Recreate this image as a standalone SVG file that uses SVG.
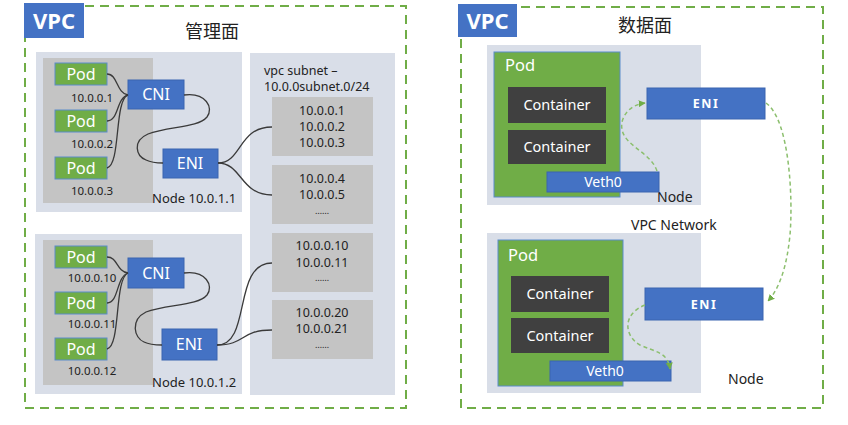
<svg xmlns="http://www.w3.org/2000/svg" width="848" height="425" viewBox="0 0 848 425">
<defs>
<style>
text{font-family:"Noto Sans","Open Sans","Liberation Sans",sans-serif}
.cjk{font-family:"Noto Sans CJK SC","Noto Sans",sans-serif;font-size:18px;fill:#222}
.vpcbox{fill:#4472c4}
.vpct{fill:#fff;font-size:22px;font-weight:bold}
.frame{fill:none;stroke:#70ad47;stroke-width:2;stroke-dasharray:9,6}
.nodebg{fill:#d9dee8}
.podarea{fill:#c4c4c4}
.pod{fill:#70ad47;stroke:#5b8bc9;stroke-width:1}
.blue{fill:#4472c4;stroke:#3a65b0;stroke-width:1}
.wt{fill:#fff;font-size:16px;text-anchor:middle}
.ip{fill:#222;font-size:11.5px;text-anchor:middle}
.lbl{fill:#222;font-size:13px}
.sl{fill:#222;font-size:12.5px}
.sub{fill:#c4c4c4}
.st{fill:#222;font-size:12.5px;text-anchor:middle}
.cont{fill:#404040}
.ct{fill:#fff;font-size:14.5px;text-anchor:middle}
.eni{fill:#fff;font-size:12.5px;font-weight:bold;letter-spacing:1.5px;text-anchor:middle}
.wire{fill:none;stroke:#3a3a3a;stroke-width:1.3}
.dash{fill:none;stroke:#8cbf6e;stroke-width:1.5;stroke-dasharray:4,3}
</style>
<marker id="ah" viewBox="0 0 10 10" refX="9" refY="5" markerWidth="7" markerHeight="7" orient="auto" markerUnits="userSpaceOnUse">
<path d="M0,0 L10,5 L0,10 z" fill="#70ad47"/>
</marker>
</defs>
<rect width="848" height="425" fill="#fff"/>

<!-- Left panel: 管理面 -->
<g id="vpc-left">
<rect class="frame" x="25" y="6" width="381" height="402"/>
<rect class="vpcbox" x="24" y="3" width="60" height="35"/>
<text class="vpct" x="54" y="29" text-anchor="middle">VPC</text>
<text class="cjk" x="212" y="38" text-anchor="middle">管理面</text>
</g>

<g id="node1">
<rect class="nodebg" x="36" y="52" width="206" height="160"/>
<rect class="podarea" x="43" y="58" width="110" height="145"/>
<text class="lbl" x="152" y="203">Node 10.0.1.1</text>
</g>
<g id="pod1"><rect class="pod" x="55" y="63" width="52" height="22"/><text class="wt" x="81" y="80">Pod</text><text class="ip" x="92" y="102">10.0.0.1</text></g>
<g id="pod2"><rect class="pod" x="55" y="110" width="52" height="22"/><text class="wt" x="81" y="127">Pod</text><text class="ip" x="92" y="148">10.0.0.2</text></g>
<g id="pod3"><rect class="pod" x="55" y="157" width="52" height="22"/><text class="wt" x="81" y="174">Pod</text><text class="ip" x="92" y="195">10.0.0.3</text></g>
<g id="cni1"><rect class="blue" x="128" y="80" width="56" height="29"/><text class="wt" x="156" y="100">CNI</text></g>
<g id="eni1"><rect class="blue" x="163" y="149" width="55" height="29"/><text class="wt" x="190" y="169">ENI</text></g>

<g id="node2">
<rect class="nodebg" x="35" y="234" width="207" height="160"/>
<rect class="podarea" x="43" y="240" width="110" height="145"/>
<text class="lbl" x="152" y="387">Node 10.0.1.2</text>
</g>
<g id="pod4"><rect class="pod" x="55" y="246" width="52" height="22"/><text class="wt" x="81" y="263">Pod</text><text class="ip" x="92" y="282">10.0.0.10</text></g>
<g id="pod5"><rect class="pod" x="55" y="292" width="52" height="22"/><text class="wt" x="81" y="309">Pod</text><text class="ip" x="92" y="328">10.0.0.11</text></g>
<g id="pod6"><rect class="pod" x="55" y="338" width="52" height="22"/><text class="wt" x="81" y="355">Pod</text><text class="ip" x="92" y="375">10.0.0.12</text></g>
<g id="cni2"><rect class="blue" x="128" y="258" width="56" height="30"/><text class="wt" x="156" y="279">CNI</text></g>
<g id="eni2"><rect class="blue" x="162" y="329" width="55" height="31"/><text class="wt" x="189" y="350">ENI</text></g>

<g id="subnet">
<rect class="nodebg" x="250" y="53" width="145" height="342"/>
<text class="sl" x="264" y="75">vpc subnet  –</text>
<text class="sl" x="264" y="91">10.0.0subnet.0/24</text>
</g>
<g id="sub1"><rect class="sub" x="272" y="97" width="101" height="59"/>
<text class="st" x="322" y="115">10.0.0.1</text><text class="st" x="322" y="131">10.0.0.2</text><text class="st" x="322" y="147">10.0.0.3</text></g>
<g id="sub2"><rect class="sub" x="272" y="165" width="101" height="59"/>
<text class="st" x="322" y="183">10.0.0.4</text><text class="st" x="322" y="199">10.0.0.5</text><text class="st" x="322" y="214" style="font-size:9px">……</text></g>
<g id="sub3"><rect class="sub" x="272" y="233" width="101" height="59"/>
<text class="st" x="322" y="250">10.0.0.10</text><text class="st" x="322" y="267">10.0.0.11</text><text class="st" x="322" y="281" style="font-size:9px">……</text></g>
<g id="sub4"><rect class="sub" x="272" y="300" width="101" height="59"/>
<text class="st" x="322" y="317">10.0.0.20</text><text class="st" x="322" y="333">10.0.0.21</text><text class="st" x="322" y="348" style="font-size:9px">……</text></g>

<!-- Right panel: 数据面 -->
<g id="vpc-right">
<rect class="frame" x="461" y="7" width="362" height="401"/>
<rect class="vpcbox" x="458" y="4" width="59" height="33"/>
<text class="vpct" x="487.5" y="29" text-anchor="middle">VPC</text>
<text class="cjk" x="645" y="32" text-anchor="middle">数据面</text>
<text class="lbl" x="631" y="230" style="font-size:14px">VPC Network</text>
</g>

<g id="dnode1">
<rect class="nodebg" x="487" y="45" width="214" height="160"/>
<text class="lbl" x="657" y="202" style="font-size:14px">Node</text>
</g>
<g id="dpod1">
<rect class="pod" x="494" y="52" width="126" height="145"/>
<text x="505" y="71" style="fill:#fff;font-size:16.5px">Pod</text>
<rect class="cont" x="508" y="87" width="98" height="36"/><text class="ct" x="557" y="110">Container</text>
<rect class="cont" x="508" y="130" width="98" height="34"/><text class="ct" x="557" y="152">Container</text>
</g>
<g id="veth1"><rect class="blue" x="547" y="172" width="112" height="20"/><text class="wt" x="603" y="187" style="font-size:14px">Veth0</text></g>
<g id="deni1"><rect class="blue" x="647" y="88" width="118" height="31"/><text class="eni" x="706" y="108">ENI</text></g>

<g id="dnode2">
<rect class="nodebg" x="487" y="233" width="214" height="160"/>
<text class="lbl" x="728" y="384" style="font-size:14px">Node</text>
</g>
<g id="dpod2">
<rect class="pod" x="498" y="240" width="125" height="146"/>
<text x="508" y="261" style="fill:#fff;font-size:16.5px">Pod</text>
<rect class="cont" x="511" y="276" width="98" height="36"/><text class="ct" x="560" y="299">Container</text>
<rect class="cont" x="511" y="318" width="98" height="35"/><text class="ct" x="560" y="341">Container</text>
</g>
<g id="veth2"><rect class="blue" x="550" y="361" width="121" height="20"/><text class="wt" x="605" y="376" style="font-size:14px">Veth0</text></g>
<g id="deni2"><rect class="blue" x="645" y="288" width="118" height="32"/><text class="eni" x="704" y="309">ENI</text></g>

<g id="connectors">
<path class="wire" d="M107,74 C118,74 116,93 128,95"/>
<path class="wire" d="M107,121 C119,121 116,98 128,95"/>
<path class="wire" d="M107,168 C121,165 114,100 128,95"/>
<path class="wire" d="M184,95 C206,92 214,108 207,117 C198,128 168,126 148,134 C132,141 136,156 146,160 C152,163 157,163 163,163"/>
<path class="wire" d="M218,163 C242,163 238,127 272,127"/>
<path class="wire" d="M218,163 C242,163 240,195 272,195"/>

<path class="wire" d="M107,257 C118,257 116,271 128,273"/>
<path class="wire" d="M107,303 C119,303 116,277 128,273"/>
<path class="wire" d="M107,349 C121,346 114,279 128,273"/>
<path class="wire" d="M184,273 C206,270 214,286 207,295 C198,306 166,304 146,312 C130,320 134,338 144,342 C150,345 156,345 162,345"/>
<path class="wire" d="M217,345 C252,345 232,263 272,263"/>
<path class="wire" d="M217,345 C246,345 240,330 272,330"/>

<path class="dash" marker-end="url(#ah)" d="M657,171 C650,150 618,145 622,122 C625,110 635,104 645,103"/>
<path class="dash" marker-end="url(#ah)" d="M766,103 C790,120 793,200 790,235 C787,265 780,288 768,301"/>
<path class="dash" marker-end="url(#ah)" d="M645,305 C622,314 624,336 640,345 C655,352 668,352 670,369"/>
</g>
</svg>
